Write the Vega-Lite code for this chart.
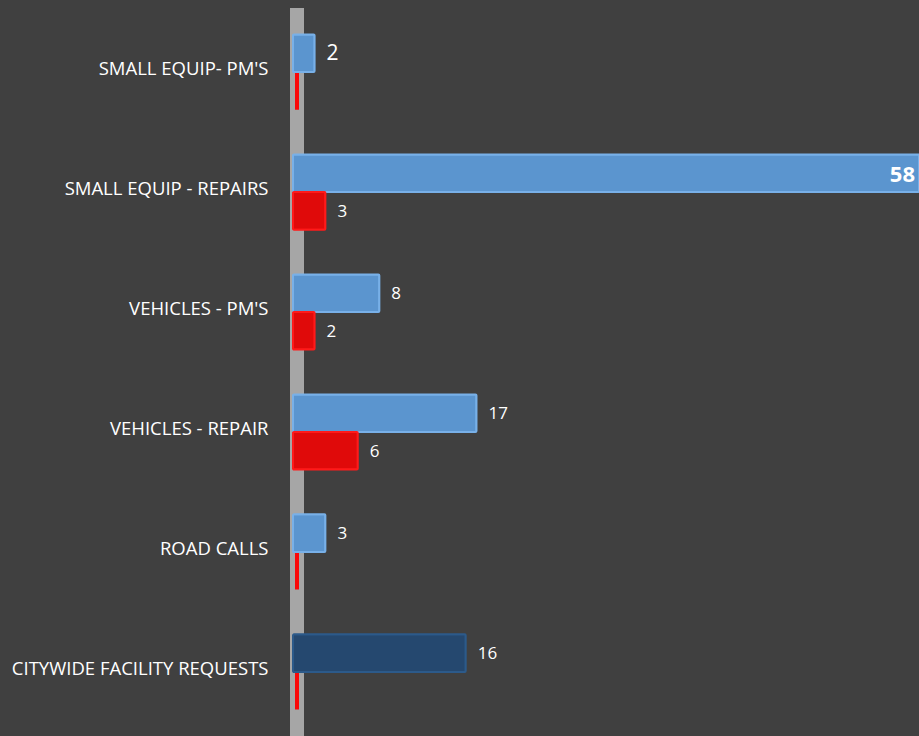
{
  "$schema": "https://vega.github.io/schema/vega-lite/v6.json",
  "autosize": "none",
  "width": 626,
  "height": 728,
  "padding": {"left": 293, "top": 8, "right": 0, "bottom": 0},
  "background": "#404040",
  "config": {"view": {"stroke": null}, "font": "Open Sans"},
  "data": {
    "values": [
      {"category": "SMALL EQUIP- PM'S", "series": "A", "value": 2},
      {"category": "SMALL EQUIP- PM'S", "series": "B", "value": 0},
      {"category": "SMALL EQUIP - REPAIRS", "series": "A", "value": 58},
      {"category": "SMALL EQUIP - REPAIRS", "series": "B", "value": 3},
      {"category": "VEHICLES - PM'S", "series": "A", "value": 8},
      {"category": "VEHICLES - PM'S", "series": "B", "value": 2},
      {"category": "VEHICLES - REPAIR", "series": "A", "value": 17},
      {"category": "VEHICLES - REPAIR", "series": "B", "value": 6},
      {"category": "ROAD CALLS", "series": "A", "value": 3},
      {"category": "ROAD CALLS", "series": "B", "value": 0},
      {"category": "CITYWIDE FACILITY REQUESTS", "series": "A", "value": 16},
      {"category": "CITYWIDE FACILITY REQUESTS", "series": "B", "value": 0}
    ]
  },
  "encoding": {
    "y": {
      "field": "category",
      "type": "nominal",
      "sort": ["SMALL EQUIP- PM'S", "SMALL EQUIP - REPAIRS", "VEHICLES - PM'S", "VEHICLES - REPAIR", "ROAD CALLS", "CITYWIDE FACILITY REQUESTS"],
      "scale": {"paddingInner": 0.373, "paddingOuter": 0.22},
      "axis": {
        "title": null,
        "domain": false,
        "ticks": false,
        "labelColor": "#ffffff",
        "labelFontSize": 18.5,
        "labelFont": "Open Sans",
        "labelPadding": 25,
        "labelLimit": 320,
        "labelOffset": -3
      }
    },
    "yOffset": {"field": "series", "type": "nominal", "sort": ["A", "B"]},
    "x": {
      "field": "value",
      "type": "quantitative",
      "scale": {"domain": [0, 58], "nice": false, "zero": true},
      "axis": null
    }
  },
  "layer": [
    {
      "mark": {"type": "rule", "color": "#a6a6a6", "strokeWidth": 14, "xOffset": 4},
      "encoding": {"x": {"datum": 0}, "y": null, "yOffset": null}
    },
    {
      "transform": [{"filter": "datum.value == 0"}],
      "mark": {"type": "bar", "stroke": "#ff0000", "strokeWidth": 4, "fill": "#c00000", "xOffset": 4, "opacity": 0.95}
    },
    {
      "transform": [{"filter": "datum.value > 0"}],
      "mark": {"type": "bar", "strokeWidth": 2, "cornerRadius": 1},
      "encoding": {
        "fill": {
          "condition": [
            {"test": "datum.series === 'B'", "value": "#e00a0a"},
            {"test": "datum.category === 'CITYWIDE FACILITY REQUESTS'", "value": "#25486f"}
          ],
          "value": "#5b95cf"
        },
        "stroke": {
          "condition": [
            {"test": "datum.series === 'B'", "value": "#ff1a1a"},
            {"test": "datum.category === 'CITYWIDE FACILITY REQUESTS'", "value": "#2c5a8a"}
          ],
          "value": "#78b0e8"
        }
      }
    },
    {
      "transform": [{"filter": "datum.value > 0 && datum.value < 50 && datum.category !== \"SMALL EQUIP- PM'S\""}],
      "mark": {"type": "text", "align": "left", "baseline": "middle", "dx": 12, "dy": 1, "color": "#ffffff", "font": "Open Sans", "fontSize": 17},
      "encoding": {"text": {"field": "value", "type": "quantitative"}}
    },
    {
      "transform": [{"filter": "datum.value > 0 && datum.category === \"SMALL EQUIP- PM'S\""}],
      "mark": {"type": "text", "align": "left", "baseline": "middle", "dx": 12, "dy": 1, "color": "#ffffff", "font": "Open Sans", "fontSize": 21},
      "encoding": {"text": {"field": "value", "type": "quantitative"}}
    },
    {
      "transform": [{"filter": "datum.value >= 50"}],
      "mark": {"type": "text", "align": "right", "baseline": "middle", "dx": -4, "dy": 2, "color": "#ffffff", "fontWeight": "bold", "fontSize": 22, "font": "Open Sans"},
      "encoding": {"text": {"field": "value", "type": "quantitative"}}
    }
  ]
}
